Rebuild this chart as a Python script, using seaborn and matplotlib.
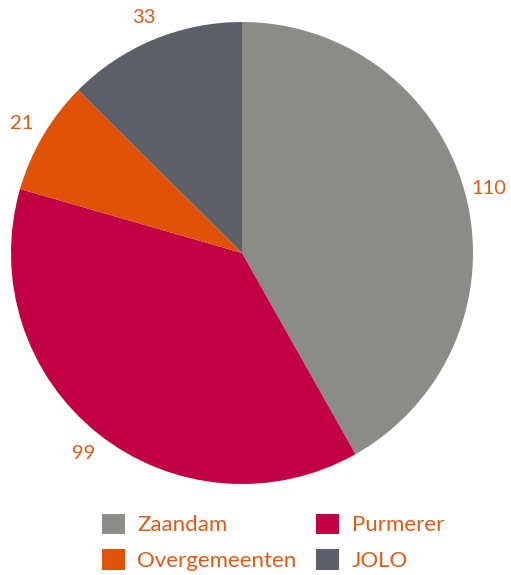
import matplotlib
matplotlib.use("Agg")
import matplotlib.pyplot as plt
import seaborn as sns

# data
categories = ["Zaandam", "Purmerer", "Overgemeenten", "JOLO"]
values = [110, 99, 21, 33]
colors = ["#8b8c88", "#c20044", "#e05206", "#5d6068"]
text_color = "#e05a16"

sns.set_theme(style="white")
plt.rcParams["font.family"] = ["Lato", "DejaVu Sans"]

fig = plt.figure(figsize=(5.11, 5.75), dpi=100)
W, H = 511, 575
cx, cy, r = 242, 253, 231
ax = fig.add_axes([(cx - r) / W, (H - cy - r) / H, 2 * r / W, 2 * r / H])

wedges, texts = ax.pie(
    values,
    labels=[str(v) for v in values],
    colors=sns.color_palette(colors),
    startangle=90,
    counterclock=False,
    labeldistance=1.105,
    radius=1,
    textprops=dict(color=text_color, fontsize=14.5, ha="center", va="center"),
    wedgeprops=dict(linewidth=0),
)
ax.set_xlim(-1, 1)
ax.set_ylim(-1, 1)
ax.set_aspect("equal")
ax.axis("off")

# legend order: Zaandam, Purmerer / Overgemeenten, JOLO (row-wise)
order = [0, 2, 1, 3]
leg = fig.legend(
    [wedges[i] for i in order],
    [categories[i] for i in order],
    ncol=2,
    loc="center",
    bbox_to_anchor=(0.534, 0.057),
    frameon=False,
    fontsize=16,
    handlelength=1.04,
    handleheight=1.04,
    handletextpad=0.55,
    columnspacing=0.9,
    labelspacing=0.62,
)
for t in leg.get_texts():
    t.set_color(text_color)

fig.savefig("out.png", dpi=100)
